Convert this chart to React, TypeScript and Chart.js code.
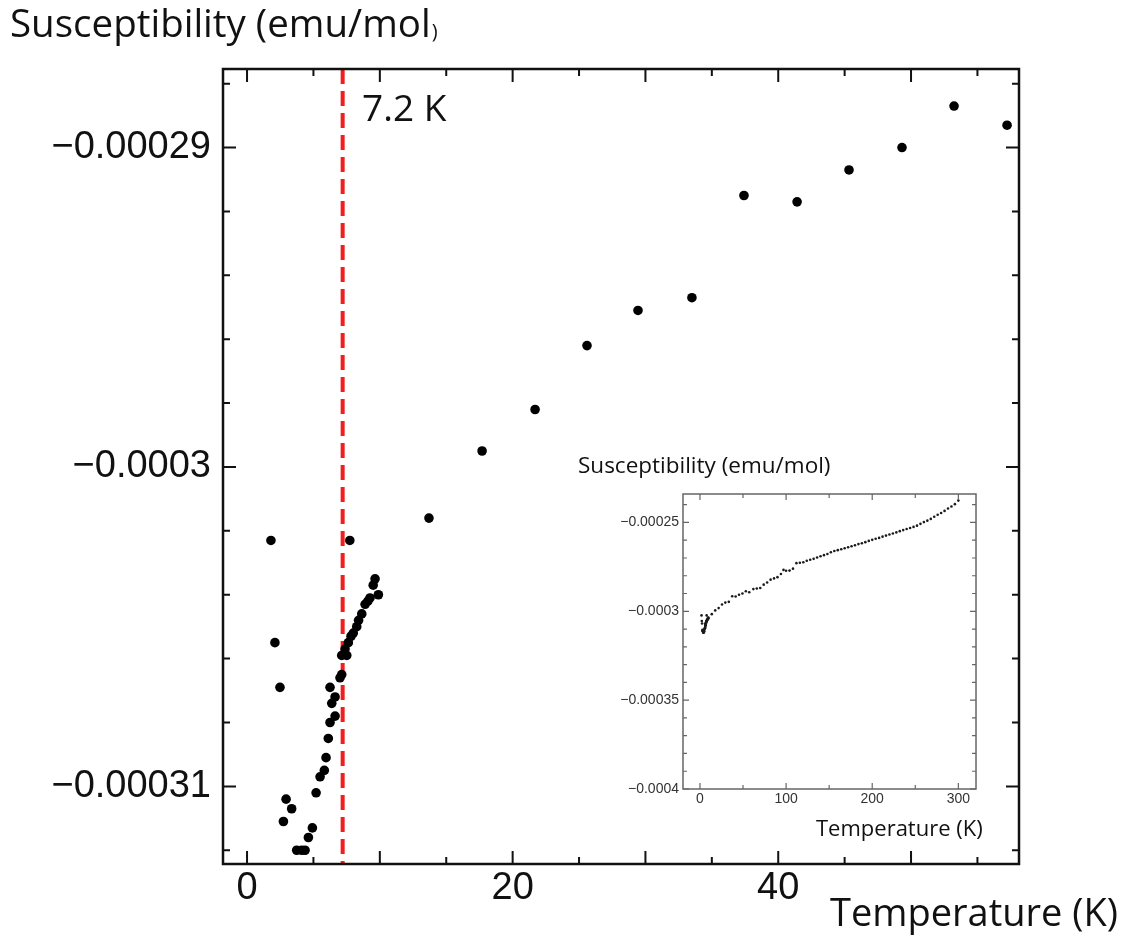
import React, { useEffect, useRef } from "react";
import { Chart, registerables } from "chart.js";

Chart.register(...registerables);

// ---------- data ----------
const mainTemps = [
  1.8, 2.1, 2.48, 2.74, 2.94, 3.36, 3.74, 4.12, 4.37, 4.62, 4.92, 5.2, 5.5, 5.82, 5.95, 6.12,
  6.25, 6.63, 6.38, 6.63, 6.25, 7.0, 7.13, 7.13, 7.51, 7.38, 7.63, 7.83, 8.0, 8.26, 8.4, 8.64,
  8.89, 9.1, 9.26, 9.5, 9.64, 9.89, 7.74,
  13.7, 17.7, 21.69, 25.6, 29.44, 33.5, 37.42, 41.42, 45.33, 49.32, 53.24, 57.23,
];
const mainChi = [
  -0.0003023, -0.0003055, -0.0003069, -0.0003111, -0.0003104, -0.0003107, -0.000312, -0.000312,
  -0.000312, -0.0003116, -0.0003113, -0.0003102, -0.0003097, -0.0003095, -0.0003091, -0.0003085,
  -0.000308, -0.0003078, -0.0003074, -0.0003072, -0.0003069, -0.0003066, -0.0003065, -0.0003059,
  -0.0003059, -0.0003057, -0.0003055, -0.0003053, -0.0003052, -0.000305, -0.0003048, -0.0003046,
  -0.0003043, -0.0003042, -0.0003041, -0.0003037, -0.0003035, -0.000304, -0.0003023,
  -0.0003016, -0.0002995, -0.0002982, -0.0002962, -0.0002951, -0.0002947, -0.0002915, -0.0002917,
  -0.0002907, -0.00029, -0.0002887, -0.0002893,
];

const insetHighTemps = [
  62, 66, 70, 74, 78, 82, 86, 90, 94, 97, 100, 104, 108, 112, 116, 120, 124, 128, 132, 136, 140,
  144, 148, 152, 156, 160, 164, 168, 172, 176, 180, 184, 188, 192, 196, 200, 204, 208, 212, 216,
  220, 224, 228, 232, 236, 240, 244, 248, 252, 256, 260, 264, 268, 272, 276, 280, 284, 288, 292,
  296, 300,
];
const insetHighChi = [
  -0.0002875, -0.0002872, -0.0002869, -0.000285, -0.0002838, -0.0002822, -0.0002815, -0.0002808,
  -0.000279, -0.0002767, -0.0002772, -0.0002771, -0.000276, -0.0002729, -0.0002727, -0.0002724,
  -0.0002716, -0.000271, -0.0002705, -0.0002697, -0.000269, -0.0002684, -0.0002678, -0.0002668,
  -0.0002661, -0.0002656, -0.0002651, -0.0002645, -0.000264, -0.0002634, -0.0002628, -0.0002622,
  -0.0002617, -0.0002611, -0.0002604, -0.0002598, -0.0002592, -0.0002587, -0.000258, -0.0002574,
  -0.0002568, -0.0002562, -0.0002556, -0.0002549, -0.0002543, -0.0002537, -0.0002531, -0.0002525,
  -0.0002518, -0.0002508, -0.0002498, -0.000249, -0.000248, -0.0002468, -0.0002457, -0.0002447,
  -0.0002435, -0.0002422, -0.000241, -0.0002397, -0.0002377,
];

const transitionT = 7.2;
const transitionLabel = "7.2 K";
const yTitle = "Susceptibility (emu/mol";
const xTitle = "Temperature (K)";
const insetYTitle = "Susceptibility (emu/mol)";

const mainXTickLabels = [0, 20, 40];
const mainYTickLabels = [-0.00031, -0.0003, -0.00029];
const mainXMajorTicks = [0, 10, 20, 30, 40, 50];
const mainXMinorTicks = [5, 15, 25, 35, 45, 55];
const mainYMinorTicks = [
  -0.000312, -0.000308, -0.000306, -0.000304, -0.000302, -0.000298, -0.000296, -0.000294,
  -0.000292, -0.000288,
];

const insetXTickLabels = [0, 100, 200, 300];
const insetYTickLabels = [-0.0004, -0.00035, -0.0003, -0.00025];
const insetXMinorTicks = [50, 150, 250];
const insetYMinorTicks = [
  -0.00039, -0.00038, -0.00037, -0.00036, -0.00034, -0.00033, -0.00032, -0.00031, -0.00029,
  -0.00028, -0.00027, -0.00026, -0.00024,
];

const fmtNeg = (v: number) => (v < 0 ? "\u2212" + String(Math.abs(v)) : String(v));

type TickCfg = {
  xMajor: number[];
  xMinor: number[];
  yMajor: number[];
  yMinor: number[];
  majorLen: number;
  minorLen: number;
  color: string;
  width: number;
  tickWidth: number;
};

function framePlugin(id: string, cfg: TickCfg) {
  return {
    id,
    afterDraw(chart: any) {
      const { ctx, chartArea: a } = chart;
      const xs = chart.scales.x;
      const ys = chart.scales.y;
      ctx.save();
      ctx.strokeStyle = cfg.color;
      ctx.lineWidth = cfg.tickWidth;
      ctx.beginPath();
      const xt = (vals: number[], len: number) => {
        vals.forEach((v) => {
          const p = xs.getPixelForValue(v);
          ctx.moveTo(p, a.bottom);
          ctx.lineTo(p, a.bottom - len);
          ctx.moveTo(p, a.top);
          ctx.lineTo(p, a.top + len);
        });
      };
      const yt = (vals: number[], len: number) => {
        vals.forEach((v) => {
          const p = ys.getPixelForValue(v);
          ctx.moveTo(a.left, p);
          ctx.lineTo(a.left + len, p);
          ctx.moveTo(a.right, p);
          ctx.lineTo(a.right - len, p);
        });
      };
      xt(cfg.xMajor, cfg.majorLen);
      xt(cfg.xMinor, cfg.minorLen);
      yt(cfg.yMajor, cfg.majorLen);
      yt(cfg.yMinor, cfg.minorLen);
      ctx.stroke();
      ctx.lineWidth = cfg.width;
      ctx.strokeRect(a.left, a.top, a.right - a.left, a.bottom - a.top);
      ctx.restore();
    },
  };
}

const transitionPlugin = {
  id: "transitionLine",
  beforeDatasetsDraw(chart: any) {
    const { ctx, chartArea: a } = chart;
    const px = chart.scales.x.getPixelForValue(transitionT);
    ctx.save();
    ctx.strokeStyle = "#f21d1d";
    ctx.lineWidth = 4;
    ctx.setLineDash([15, 7]);
    ctx.beginPath();
    ctx.moveTo(px, a.top);
    ctx.lineTo(px, a.bottom);
    ctx.stroke();
    ctx.restore();
  },
};

const mainTextPlugin = {
  id: "mainText",
  afterDraw(chart: any) {
    const { ctx } = chart;
    ctx.save();
    ctx.fillStyle = "#111";
    ctx.textBaseline = "alphabetic";
    ctx.textAlign = "left";
    ctx.font = '38.5px "Open Sans"';
    ctx.fillText(yTitle, 10, 37);
    const w = ctx.measureText(yTitle).width;
    ctx.font = '20px "Open Sans"';
    ctx.fillText(")", 10 + w + 1, 38);
    ctx.font = '37px "Open Sans"';
    ctx.fillText(transitionLabel, 362, 121);
    ctx.font = '38px "Open Sans"';
    ctx.fillText(xTitle, 830, 926);
    ctx.restore();
  },
};

const insetTextPlugin = {
  id: "insetText",
  afterDraw(chart: any) {
    const { ctx } = chart;
    ctx.save();
    ctx.fillStyle = "#111";
    ctx.textBaseline = "alphabetic";
    ctx.textAlign = "left";
    ctx.font = '22.5px "Open Sans"';
    ctx.fillText(insetYTitle, 18, 23);
    ctx.font = '22px "Open Sans"';
    ctx.fillText(xTitle, 256, 386);
    ctx.restore();
  },
};

export default function App() {
  const mainRef = useRef<HTMLCanvasElement>(null);
  const insetRef = useRef<HTMLCanvasElement>(null);

  useEffect(() => {
    const mainData = mainTemps.map((t, i) => ({ x: t, y: mainChi[i] }));
    const main = new Chart(mainRef.current as HTMLCanvasElement, {
      type: "scatter",
      data: {
        datasets: [
          {
            data: mainData,
            backgroundColor: "#000",
            borderColor: "#000",
            pointRadius: 4.8,
            borderWidth: 0,
          },
        ],
      },
      options: {
        responsive: false,
        animation: false,
        events: [],
        layout: { padding: { left: 0, top: 69, right: 104, bottom: 0 } },
        plugins: { legend: { display: false }, tooltip: { enabled: false }, title: { display: false } },
        scales: {
          x: {
            type: "linear",
            min: -1.81,
            max: 58.13,
            grid: { display: false, drawTicks: false },
            border: { display: false },
            ticks: {
              autoSkip: false,
              maxRotation: 0,
              padding: 2,
              color: "#111",
              font: { family: '"Liberation Sans"', size: 38 },
              callback: (v: any) => String(v),
            },
            afterBuildTicks: (s: any) => {
              s.ticks = mainXTickLabels.map((v) => ({ value: v }));
            },
            afterFit: (s: any) => {
              s.height = 73;
            },
          },
          y: {
            type: "linear",
            min: -0.00031243,
            max: -0.00028754,
            grid: { display: false, drawTicks: false },
            border: { display: false },
            ticks: {
              autoSkip: false,
              padding: 12,
              color: "#111",
              font: { family: '"Liberation Sans"', size: 38 },
              callback: (v: any) => fmtNeg(Number(v)),
            },
            afterBuildTicks: (s: any) => {
              s.ticks = mainYTickLabels.map((v) => ({ value: v }));
            },
            afterFit: (s: any) => {
              s.width = 223;
            },
          },
        },
      },
      plugins: [
        transitionPlugin,
        framePlugin("mainFrame", {
          xMajor: mainXMajorTicks,
          xMinor: mainXMinorTicks,
          yMajor: mainYTickLabels,
          yMinor: mainYMinorTicks,
          majorLen: 13,
          minorLen: 7,
          color: "#111",
          width: 2.5,
          tickWidth: 2,
        }),
        mainTextPlugin,
      ],
    } as any);

    const insetData = [
      ...mainTemps.map((t, i) => ({ x: t, y: mainChi[i] })),
      ...insetHighTemps.map((t, i) => ({ x: t, y: insetHighChi[i] })),
    ];
    const inset = new Chart(insetRef.current as HTMLCanvasElement, {
      type: "scatter",
      data: {
        datasets: [
          {
            data: insetData,
            backgroundColor: "#1a1a1a",
            borderColor: "#1a1a1a",
            pointRadius: 1.3,
            borderWidth: 0,
          },
        ],
      },
      options: {
        responsive: false,
        animation: false,
        events: [],
        layout: { padding: { left: 0, top: 44, right: 24, bottom: 0 } },
        plugins: { legend: { display: false }, tooltip: { enabled: false }, title: { display: false } },
        scales: {
          x: {
            type: "linear",
            min: -19.7,
            max: 320.5,
            grid: { display: false, drawTicks: false },
            border: { display: false },
            ticks: {
              autoSkip: false,
              maxRotation: 0,
              padding: 2,
              color: "#333",
              font: { family: '"Liberation Sans"', size: 14 },
              callback: (v: any) => String(v),
            },
            afterBuildTicks: (s: any) => {
              s.ticks = insetXTickLabels.map((v) => ({ value: v }));
            },
            afterFit: (s: any) => {
              s.height = 61;
            },
          },
          y: {
            type: "linear",
            min: -0.0004,
            max: -0.000234,
            grid: { display: false, drawTicks: false },
            border: { display: false },
            ticks: {
              autoSkip: false,
              padding: 4,
              color: "#333",
              font: { family: '"Liberation Sans"', size: 14 },
              callback: (v: any) => fmtNeg(Number(v)),
            },
            afterBuildTicks: (s: any) => {
              s.ticks = insetYTickLabels.map((v) => ({ value: v }));
            },
            afterFit: (s: any) => {
              s.width = 123;
            },
          },
        },
      },
      plugins: [
        framePlugin("insetFrame", {
          xMajor: insetXTickLabels,
          xMinor: insetXMinorTicks,
          yMajor: insetYTickLabels,
          yMinor: insetYMinorTicks,
          majorLen: 6,
          minorLen: 4,
          color: "#666",
          width: 1.5,
          tickWidth: 1.2,
        }),
        insetTextPlugin,
      ],
    } as any);

    return () => {
      main.destroy();
      inset.destroy();
    };
  }, []);

  return (
    <div style={{ position: "fixed", left: 0, top: 0, width: 1123, height: 937, background: "#fff" }}>
      <canvas ref={mainRef} width={1123} height={937} style={{ position: "absolute", left: 0, top: 0 }} />
      <canvas
        ref={insetRef}
        width={440}
        height={400}
        style={{ position: "absolute", left: 560, top: 450 }}
      />
    </div>
  );
}
